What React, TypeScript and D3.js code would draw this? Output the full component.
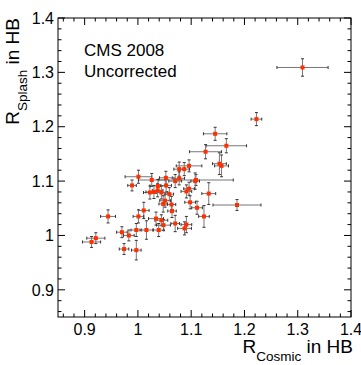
import React from 'react';
import * as d3 from 'd3';

// values
const rCosmic = [
  1.309, 1.2225, 1.145, 1.166, 1.127, 1.153, 1.157, 1.096, 1.087, 1.0775,
  1.001, 1.026, 1.0525, 1.0775, 1.109, 1.1075, 0.989, 1.07, 1.0375, 1.053,
  1.096, 1.091, 1.0225, 1.03, 1.037, 1.044, 1.059, 1.133, 1.051, 1.0475,
  1.063, 1.186, 1.098, 1.111, 1.064, 1.011, 1.001, 0.944, 1.124, 1.034,
  1.044, 1.07, 1.048, 1.091, 1.0875, 0.997, 1.016, 1.039, 0.97, 0.983,
  0.921, 0.913, 0.974, 0.997,
];
const rSplash = [
  1.309, 1.214, 1.187, 1.165, 1.154, 1.132, 1.128, 1.128, 1.122, 1.122,
  1.108, 1.102, 1.106, 1.105, 1.102, 1.1, 1.092, 1.1, 1.091, 1.092,
  1.086, 1.081, 1.079, 1.08, 1.083, 1.079, 1.076, 1.077, 1.064, 1.058,
  1.057, 1.056, 1.061, 1.051, 1.045, 1.046, 1.035, 1.035, 1.035, 1.031,
  1.028, 1.022, 1.019, 1.02, 1.013, 1.01, 1.01, 1.01, 1.006, 1.0,
  0.995, 0.988, 0.975, 0.973,
];
const errCosmic = [
  0.048, 0.01, 0.022, 0.038, 0.03, 0.013, 0.013, 0.024, 0.01, 0.01,
  0.025, 0.025, 0.012, 0.01, 0.07, 0.008, 0.008, 0.012, 0.015, 0.01,
  0.01, 0.01, 0.012, 0.015, 0.01, 0.012, 0.008, 0.013, 0.01, 0.008,
  0.008, 0.045, 0.01, 0.01, 0.008, 0.01, 0.01, 0.014, 0.01, 0.014,
  0.012, 0.008, 0.013, 0.01, 0.013, 0.01, 0.012, 0.01, 0.01, 0.01,
  0.017, 0.017, 0.009, 0.009,
];
const errSplash = [
  0.016, 0.012, 0.012, 0.013, 0.013, 0.02, 0.02, 0.011, 0.012, 0.013,
  0.012, 0.012, 0.012, 0.012, 0.01, 0.015, 0.01, 0.012, 0.012, 0.012,
  0.012, 0.012, 0.012, 0.012, 0.012, 0.012, 0.012, 0.02, 0.012, 0.015,
  0.015, 0.01, 0.012, 0.012, 0.012, 0.015, 0.012, 0.012, 0.02, 0.012,
  0.01, 0.015, 0.01, 0.015, 0.012, 0.012, 0.017, 0.012, 0.01, 0.01,
  0.01, 0.01, 0.01, 0.018,
];
const tickLabels = ['0.9', '1', '1.1', '1.2', '1.3', '1.4'];

const W = 361;
const H = 365;
const left = 58;
const right = 351;
const top = 18;
const bottom = 317;
const font = '"Liberation Sans", Arial, Helvetica, sans-serif';

export default function App() {
  const x = d3.scaleLinear().domain([0.85, 1.4]).range([left, right]);
  const y = d3.scaleLinear().domain([0.85, 1.4]).range([bottom, top]);

  const majors = tickLabels.map(Number);
  const minors = d3.range(0.86, 1.4, 0.02).filter(
    (v) => !majors.some((m) => Math.abs(m - v) < 1e-6)
  );

  const data = rCosmic.map((c, i) => ({
    c,
    s: rSplash[i],
    ec: errCosmic[i],
    es: errSplash[i],
  }));

  const cap = 1.5;

  return (
    <svg
      width={W}
      height={H}
      style={{ position: 'absolute', left: 0, top: 0, background: '#fff' }}
      fontFamily={font}
    >
      {/* frame */}
      <rect x={left} y={top} width={right - left} height={bottom - top} fill="none" stroke="#000" strokeWidth={1} />

      {/* ticks on all four sides, pointing inward */}
      <g stroke="#000" strokeWidth={1}>
        {majors.map((v) => (
          <g key={'M' + v}>
            <line x1={x(v)} x2={x(v)} y1={bottom} y2={bottom - 7} />
            <line x1={x(v)} x2={x(v)} y1={top} y2={top + 7} />
            <line y1={y(v)} y2={y(v)} x1={left} x2={left + 7} />
            <line y1={y(v)} y2={y(v)} x1={right} x2={right - 7} />
          </g>
        ))}
        {minors.map((v) => (
          <g key={'m' + v}>
            <line x1={x(v)} x2={x(v)} y1={bottom} y2={bottom - 3.5} />
            <line x1={x(v)} x2={x(v)} y1={top} y2={top + 3.5} />
            <line y1={y(v)} y2={y(v)} x1={left} x2={left + 3.5} />
            <line y1={y(v)} y2={y(v)} x1={right} x2={right - 3.5} />
          </g>
        ))}
      </g>

      {/* tick labels */}
      {majors.map((v, i) => (
        <text key={'xl' + v} x={x(v)} y={335} textAnchor="middle" fontSize={16}>
          {tickLabels[i]}
        </text>
      ))}
      {majors.map((v, i) => (
        <text key={'yl' + v} x={54} y={y(v)} dy="0.36em" textAnchor="end" fontSize={16}>
          {tickLabels[i]}
        </text>
      ))}

      {/* error bars */}
      <g stroke="#333" strokeWidth={1}>
        {data.map((d, i) => (
          <g key={'e' + i}>
            <line x1={x(d.c - d.ec)} x2={x(d.c + d.ec)} y1={y(d.s)} y2={y(d.s)} stroke="#777" />
            <line x1={x(d.c)} x2={x(d.c)} y1={y(d.s - d.es)} y2={y(d.s + d.es)} stroke="#777" />
            <line x1={x(d.c - d.ec)} x2={x(d.c - d.ec)} y1={y(d.s) - cap} y2={y(d.s) + cap} />
            <line x1={x(d.c + d.ec)} x2={x(d.c + d.ec)} y1={y(d.s) - cap} y2={y(d.s) + cap} />
            <line y1={y(d.s - d.es)} y2={y(d.s - d.es)} x1={x(d.c) - cap} x2={x(d.c) + cap} />
            <line y1={y(d.s + d.es)} y2={y(d.s + d.es)} x1={x(d.c) - cap} x2={x(d.c) + cap} />
          </g>
        ))}
      </g>

      {/* markers */}
      {data.map((d, i) => (
        <rect key={'p' + i} x={x(d.c) - 2} y={y(d.s) - 2} width={4} height={4} fill="#ff3000" />
      ))}

      {/* labels */}
      <text x={84} y={56} fontSize={17}>CMS 2008</text>
      <text x={84} y={77} fontSize={17}>Uncorrected</text>

      {/* x title */}
      <text x={353} y={353} textAnchor="end" fontSize={19}>
        R<tspan fontSize={13.5} dy={8}>Cosmic</tspan>
        <tspan dy={-8}> in HB</tspan>
      </text>

      {/* y title */}
      <text transform="translate(18.5,18) rotate(-90)" textAnchor="end" fontSize={19}>
        R<tspan fontSize={13.5} dy={8}>Splash</tspan>
        <tspan dy={-8}> in HB</tspan>
      </text>
    </svg>
  );
}
